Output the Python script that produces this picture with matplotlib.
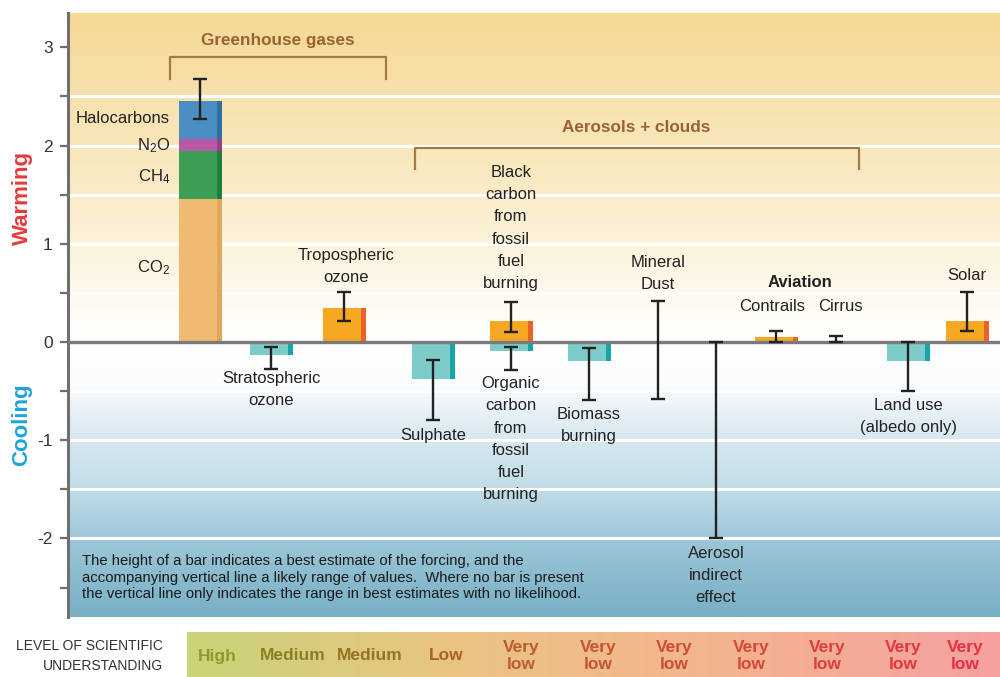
import numpy as np
import matplotlib
matplotlib.use("Agg")
import matplotlib.pyplot as plt
from matplotlib import font_manager
from matplotlib.colors import LinearSegmentedColormap

# ---------------- data ----------------
ghg_parts = ["CO$_2$", "CH$_4$", "N$_2$O", "Halocarbons"]
ghg_values = [1.46, 0.48, 0.13, 0.38]
ghg_range = [2.27, 2.68]

agents = ["Stratospheric\nozone", "Tropospheric\nozone", "Sulphate",
          "Black\ncarbon\nfrom\nfossil\nfuel\nburning",
          "Organic\ncarbon\nfrom\nfossil\nfuel\nburning",
          "Biomass\nburning", "Mineral\nDust", "Aerosol\nindirect\neffect",
          "Contrails", "Cirrus", "Land use\n(albedo only)", "Solar"]
best_estimate = [-0.13, 0.35, -0.38, 0.21, -0.09, -0.19,
                 np.nan, np.nan, 0.05, np.nan, -0.19, 0.21]
range_low = [-0.27, 0.21, -0.79, 0.10, -0.28, -0.59, -0.58, -2.0, 0.0, 0.0, -0.50, 0.11]
range_high = [-0.05, 0.51, -0.18, 0.41, -0.05, -0.06, 0.42, 0.0, 0.11, 0.06, 0.0, 0.51]

losu_labels = ["High", "Medium", "Medium", "Low"] + ["Very\nlow"] * 7

# ---------------- layout / style ----------------
W, H = 1000, 677
names = {f.name for f in font_manager.fontManager.ttflist}
SANS = "Liberation Sans" if "Liberation Sans" in names else "DejaVu Sans"
NARROW = "Liberation Sans Narrow" if "Liberation Sans Narrow" in names else SANS

plt.rcParams["font.family"] = [SANS, "DejaVu Sans"]
plt.rcParams["mathtext.fontset"] = "custom"
plt.rcParams["mathtext.rm"] = SANS
plt.rcParams["mathtext.it"] = SANS
plt.rcParams["axes.unicode_minus"] = False

ghg_x = 200
agent_x = [271, 344, 433, 511, 511, 589, 658, 716, 776, 836, 908, 967]
bar_w = 43
stripe_w = 5
LABEL_FS = 12

y_top, y_bot = 3.35, -2.80
ax_left, ax_right, ax_toppx, ax_botpx = 68, 1000, 13, 617

fig = plt.figure(figsize=(W / 100, H / 100), dpi=100)
fig.patch.set_facecolor("white")
ax = fig.add_axes([ax_left / W, 1 - ax_botpx / H,
                   (ax_right - ax_left) / W, (ax_botpx - ax_toppx) / H])
ax.set_xlim(ax_left, ax_right)
ax.set_ylim(y_bot, y_top)

# background: warm above zero, cool below
nodes = [(3.35, (245, 216, 148)), (2.5, (247, 226, 174)), (1.5, (250, 236, 200)),
         (0.8, (252, 245, 226)), (0.2, (255, 253, 249)), (0.0, (255, 255, 255)),
         (-0.45, (250, 252, 253)), (-0.8, (226, 238, 244)), (-1.0, (214, 232, 240)),
         (-1.5, (193, 221, 232)), (-2.0, (158, 200, 216)), (-2.8, (120, 175, 198))]
pos = [(v - y_bot) / (y_top - y_bot) for v, _ in nodes][::-1]
cols = [tuple(c / 255 for c in rgb) for _, rgb in nodes][::-1]
bg_cmap = LinearSegmentedColormap.from_list("bg", list(zip(pos, cols)))
grad = np.linspace(1, 0, 600).reshape(-1, 1)
ax.imshow(grad, cmap=bg_cmap, vmin=0, vmax=1, aspect="auto",
          extent=[ax_left, ax_right, y_bot, y_top], zorder=0, interpolation="bilinear")

for g in [-2, -1.5, -1, -0.5, 0.5, 1, 1.5, 2, 2.5]:
    ax.axhline(g, color="white", lw=2.2, zorder=0.5)

# axis styling
for s in ["top", "right", "bottom"]:
    ax.spines[s].set_visible(False)
ax.spines["left"].set_color("#707070")
ax.spines["left"].set_linewidth(2.2)
ax.set_xticks([])
ax.set_yticks([-2, -1, 0, 1, 2, 3])
ax.set_yticks([-2.5, -1.5, -0.5, 0.5, 1.5, 2.5], minor=True)
ax.tick_params(axis="y", which="both", direction="out", length=6, width=1.6,
               color="#707070", labelsize=12.5, labelcolor="#333333", pad=5)

# greenhouse gas stacked bar
ghg_colors = ["#efbb72", "#3d9e55", "#b65aa8", "#4b8fc2"]
ghg_stripes = ["#e2a75c", "#1f7e3c", "#94408a", "#2d6f9f"]
bottom = 0.0
for v, c, sc in zip(ghg_values, ghg_colors, ghg_stripes):
    ax.bar(ghg_x, v, bar_w, bottom=bottom, color=c, zorder=2)
    ax.bar(ghg_x + bar_w / 2 - stripe_w / 2, v, stripe_w, bottom=bottom, color=sc, zorder=2.1)
    bottom += v

ghg_label_y = [0.76, 1.68, 2.00, 2.28]
for name, yl in zip(ghg_parts, ghg_label_y):
    ax.text(170, yl, name, ha="right", va="center", fontsize=LABEL_FS, color="#222222")

# other agents
for x, v in zip(agent_x, best_estimate):
    if np.isnan(v):
        continue
    if v >= 0:
        c, sc = "#f6a823", "#e8622a"
    else:
        c, sc = "#7dccc9", "#16a6a7"
    ax.bar(x, v, bar_w, color=c, zorder=2)
    ax.bar(x + bar_w / 2 - stripe_w / 2, v, stripe_w, color=sc, zorder=2.1)

ax.axhline(0, color="#7a7a7a", lw=2.4, zorder=3)

# likely ranges
err_x = [ghg_x] + agent_x
lo = np.array([ghg_range[0]] + range_low)
hi = np.array([ghg_range[1]] + range_high)
mid = (lo + hi) / 2
ax.errorbar(err_x, mid, yerr=[mid - lo, hi - mid], fmt="none", ecolor="#222222",
            elinewidth=1.7, capsize=4.8, capthick=1.7, zorder=4)

# agent labels
label_pos = [(271, -0.48), (346, 0.77), (433, -0.95), (511, 1.16), (511, -0.99),
             (589, -0.85), (658, 0.70), (716, -2.38), (772, 0.365), (840, 0.365),
             (908, -0.76), (967, 0.68)]
for name, (lx, ly) in zip(agents, label_pos):
    ax.text(lx, ly, name, ha="center", va="center", fontsize=LABEL_FS,
            color="#222222", linespacing=1.6, zorder=5)
ax.text(800, 0.61, "Aviation", ha="center", va="center", fontsize=LABEL_FS,
        fontweight="bold", color="#222222")

# group brackets
br_col = "#a57a45"
ax.plot([170, 170, 386, 386], [2.68, 2.90, 2.90, 2.68], color=br_col, lw=1.6, zorder=3)
ax.text(278, 3.07, "Greenhouse gases", ha="center", va="center", fontsize=12.3,
        fontweight="bold", color="#9a6234")
ax.plot([415, 415, 859, 859], [1.76, 1.98, 1.98, 1.76], color=br_col, lw=1.6, zorder=3)
ax.text(636, 2.18, "Aerosols + clouds", ha="center", va="center", fontsize=12.3,
        fontweight="bold", color="#9a6234")

# explanatory note
note = ["The height of a bar indicates a best estimate of the forcing, and the",
        "accompanying vertical line a likely range of values.  Where no bar is present",
        "the vertical line only indicates the range in best estimates with no likelihood."]
for i, line in enumerate(note):
    ax.text(82, -2.23 - i * 0.168, line, ha="left", va="center", fontsize=10.7,
            color="#1a1a1a", zorder=5)

# axis titles
def fx(px):
    return px / W

def fy(py):
    return 1 - py / H

fig.text(fx(22), fy(198), "Warming", rotation=90, ha="center", va="center",
         fontsize=16, fontweight="bold", color="#e63a3c", family=NARROW)
fig.text(fx(22), fy(425), "Cooling", rotation=90, ha="center", va="center",
         fontsize=16, fontweight="bold", color="#1ea3da", family=NARROW)

# level of scientific understanding strip
strip = fig.add_axes([187 / W, 0, (W - 187) / W, (H - 632) / H])
strip.axis("off")
s_nodes = [(0.0, (201, 212, 120)), (0.33, (234, 196, 130)), (0.6, (243, 182, 141)),
           (0.8, (245, 172, 150)), (1.0, (244, 160, 160))]
strip_cmap = LinearSegmentedColormap.from_list(
    "losu", [(p, tuple(c / 255 for c in rgb)) for p, rgb in s_nodes])
strip.imshow(np.linspace(0, 1, 400).reshape(1, -1), cmap=strip_cmap, aspect="auto",
             extent=[0, 1, 0, 1], interpolation="bilinear")
strip.set_xlim(0, 1)
strip.set_ylim(0, 1)

fig.text(fx(163), fy(656), "LEVEL OF SCIENTIFIC\nUNDERSTANDING", ha="right", va="center",
         fontsize=10, color="#333333", family=NARROW, linespacing=1.55)

losu_x = [217, 293, 370, 446, 521, 598, 674, 751, 827, 903, 965]
losu_colors = ["#8a9a2c", "#8c7e22", "#957224", "#a8622a", "#b95e2e", "#c25630",
               "#cc4f33", "#d44836", "#da4139", "#e0383d", "#e53040"]
for x, lab, c in zip(losu_x, losu_labels, losu_colors):
    fig.text(fx(x), fy(656), lab, ha="center", va="center", fontsize=12.5,
             fontweight="bold", color=c, family=NARROW, linespacing=1.2)

fig.savefig("out.png", dpi=100, facecolor="white")
